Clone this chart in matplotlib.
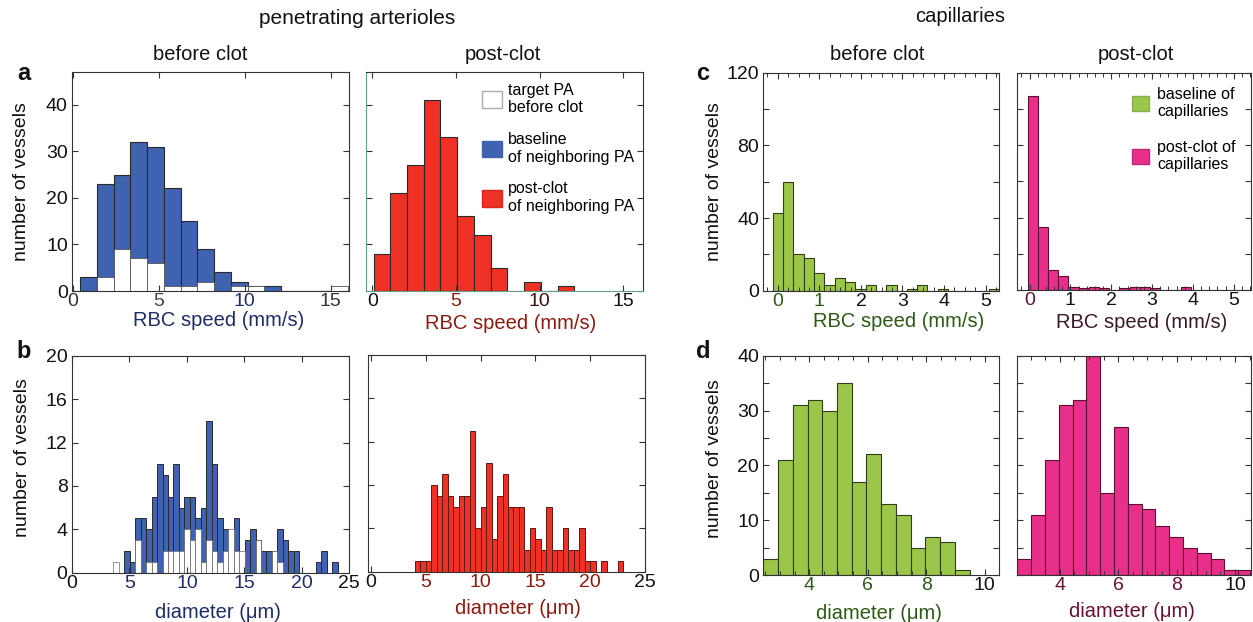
import numpy as np
import matplotlib
matplotlib.use('Agg')
import matplotlib.pyplot as plt
from matplotlib.patches import Patch

plt.rcParams['font.family'] = ['Liberation Sans', 'DejaVu Sans']

# colours
blue = '#3f62b1'
red = '#ef3125'
green = '#9cc64a'
pink = '#e8308a'
edge = '#2a2a2a'
navy = '#1f2d66'
dred = '#8b1a10'
dgreen = '#2d5a14'
maroon = '#6a1035'

# ---- histogram counts ----
# a: RBC speed (mm/s) of penetrating arterioles
a_pre_start, a_pre_width = 0.44, 0.9725
a_pre_neighbor = [3, 23, 25, 32, 31, 22, 15, 9, 4, 2, 1, 1, 0, 0, 0, 0]
a_pre_target = [0, 3, 9, 7, 6, 1, 1, 2, 0, 1, 1, 0, 0, 0, 0, 1]
a_post_start, a_post_width = 0.07, 1.0
a_post_neighbor = [8, 21, 27, 41, 33, 16, 12, 5, 0, 2, 0, 1]

# b: diameter (um) of penetrating arterioles
b_pre_start, b_pre_width = 3.61, 0.475
b_pre_neighbor = [0, 0, 2, 1, 5, 5, 4, 7, 10, 9,
                  7, 10, 6, 7, 7, 5, 6, 14, 10, 5,
                  4, 2, 5, 1, 3, 4, 3, 2, 2, 2,
                  4, 3, 2, 2, 0, 0, 0, 1, 2, 0, 1]
b_pre_target = [1, 0, 0, 0, 3, 0, 1, 1, 0, 2,
                2, 2, 2, 4, 3, 4, 1, 3, 2, 1,
                2, 4, 2, 2, 0, 0, 3, 0, 0, 2,
                1, 0, 0, 0, 0, 0, 0, 0, 0, 0, 0]
b_post_start, b_post_width = 4.0, 0.5
b_post_neighbor = [1, 1, 1, 8, 7, 9, 7, 6, 7, 7,
                   13, 4, 6, 10, 3, 7, 9, 6, 6, 6,
                   2, 4, 3, 2, 6, 2, 2, 4, 2, 2,
                   4, 1, 1, 0, 1, 0, 0, 1]

# c: RBC speed (mm/s) of capillaries
c_pre_start, c_pre_width = -0.12, 0.248
c_pre = [43, 60, 20, 18, 10, 3, 7, 5, 1, 3, 0, 3, 0, 1, 3, 0, 1, 0, 0, 0, 0, 1]
c_post_start, c_post_width = -0.05, 0.25
c_post = [107, 35, 11, 8, 2, 1, 2, 1, 0, 1, 2, 2, 1, 0, 0, 2]

# d: diameter (um) of capillaries
d_pre_start, d_pre_width = 2.43, 0.504
d_pre = [3, 21, 31, 32, 30, 35, 17, 22, 13, 11, 5, 7, 6, 1]
d_post_start, d_post_width = 2.54, 0.473
d_post = [3, 11, 21, 31, 32, 40, 15, 27, 13, 12, 9, 7, 5, 4, 3, 1, 1]

W, H = 1253, 622
fig = plt.figure(figsize=(W / 100, H / 100), dpi=100)


def make_ax(l, t, r, b):
    return fig.add_axes([l / W, 1 - b / H, (r - l) / W, (b - t) / H])


def bars(ax, start, width, counts, color, ec=edge, lw=0.8):
    left = start + width * np.arange(len(counts))
    ax.bar(left, counts, width=width, align='edge', color=color,
           edgecolor=ec, linewidth=lw)


def style(ax, xlim, ylim, xticks, yticks, ylabels=None, xcolors=None,
          spine='#333333'):
    ax.set_xlim(xlim)
    ax.set_ylim(ylim)
    ax.set_xticks(xticks)
    ax.set_yticks(yticks)
    ax.tick_params(direction='in', top=True, right=True, labelsize=14,
                   length=4, width=0.8, pad=3, colors='#333333',
                   labelcolor='#111111')
    ax.tick_params(axis='x', pad=1.5)
    if ylabels is None:
        ax.set_yticklabels([])
    else:
        ax.set_yticklabels(ylabels)
    if xcolors is not None:
        for lab, c in zip(ax.get_xticklabels(), xcolors):
            lab.set_color(c)
    for s in ax.spines.values():
        s.set_color(spine)
        s.set_linewidth(0.8)


def xlab(ax, text, color, x, y):
    ax.set_xlabel(text, fontsize=14.5, color=color)
    ax.xaxis.set_label_coords(x, y)


def ylab(ax, x, y=0.5):
    ax.set_ylabel('number of vessels', fontsize=14, color='#111111')
    ax.yaxis.set_label_coords(x, y)


# ---- a: before clot ----
ax = make_ax(72, 72, 349, 291)
bars(ax, a_pre_start, a_pre_width, a_pre_neighbor, blue)
bars(ax, a_pre_start, a_pre_width, a_pre_target, 'white', ec='#555555', lw=0.6)
style(ax, (-0.04, 16.06), (0, 47), [0, 5, 10, 15], [0, 10, 20, 30, 40],
      ['0', '10', '20', '30', '40'],
      xcolors=['#333333', '#444444', navy, '#333333'])
xlab(ax, 'RBC speed (mm/s)', navy, 0.53, -0.093)
ylab(ax, -0.15)

# ---- a: post-clot ----
ax = make_ax(366, 72, 642.7, 291)
bars(ax, a_post_start, a_post_width, a_post_neighbor, red)
style(ax, (-0.38, 16.16), (0, 47), [0, 5, 10, 15], [0, 10, 20, 30, 40],
      xcolors=['#111111', dred, '#3a1010', '#111111'])
for s in ('left', 'bottom'):
    ax.spines[s].set_color('#5f9f86')
xlab(ax, 'RBC speed (mm/s)', dred, 0.524, -0.105)
ax.legend(handles=[Patch(facecolor='white', edgecolor='#aaaaaa'),
                   Patch(facecolor=blue, edgecolor=blue),
                   Patch(facecolor=red, edgecolor='#d02a20')],
          labels=['target PA\nbefore clot', 'baseline\nof neighboring PA',
                  'post-clot\nof neighboring PA'],
          loc='upper left', bbox_to_anchor=(0.42, 0.95), frameon=False,
          fontsize=11.5, handlelength=1.25, handleheight=1.25,
          handletextpad=0.35, labelspacing=1.05, borderpad=0,
          borderaxespad=0)

# ---- b: before clot ----
ax = make_ax(71.7, 355.7, 349.3, 572.7)
bars(ax, b_pre_start, b_pre_width, b_pre_neighbor, blue, lw=0.7)
bars(ax, b_pre_start, b_pre_width, b_pre_target, 'white', ec='#666666', lw=0.5)
style(ax, (0, 24.1), (0, 20), [0, 5, 10, 15, 20], [0, 4, 8, 12, 16, 20],
      ['0', '4', '8', '12', '16', '20'],
      xcolors=['#111111', navy, navy, navy, navy])
ax.text(1.0, -0.012, '25', transform=ax.transAxes, ha='center', va='top',
        fontsize=14, color='#111111')
xlab(ax, 'diameter (\u03bcm)', navy, 0.525, -0.14)
ylab(ax, -0.145, 0.53)

# ---- b: post-clot ----
ax = make_ax(368.3, 355, 645, 571.7)
bars(ax, b_post_start, b_post_width, b_post_neighbor, red, ec='#5a1a14', lw=0.7)
style(ax, (-0.25, 25), (0, 20), [0, 5, 10, 15, 20, 25], [0, 4, 8, 12, 16, 20],
      xcolors=['#111111', dred, dred, dred, dred, '#111111'])
xlab(ax, 'diameter (\u03bcm)', dred, 0.54, -0.125)

# ---- c: before clot ----
ax = make_ax(763.3, 72.7, 999.3, 290.7)
bars(ax, c_pre_start, c_pre_width, c_pre, green, ec='#2f3f1a')
style(ax, (-0.35, 5.33), (0, 120), [0, 1, 2, 3, 4, 5],
      [0, 20, 40, 60, 80, 100, 120], ['0', '', '40', '', '80', '', '120'],
      xcolors=[dgreen, dgreen, '#111111', '#111111', '#111111', '#111111'])
ax.set_xticks(np.arange(-0.25, 5.3, 0.25), minor=True)
ax.tick_params(which='minor', direction='in', top=True, bottom=True,
               length=3, width=0.7, colors='#333333')
xlab(ax, 'RBC speed (mm/s)', dgreen, 0.575, -0.1)
ylab(ax, -0.17)

# ---- c: post-clot ----
ax = make_ax(1017.3, 72.7, 1251, 290.3)
bars(ax, c_post_start, c_post_width, c_post, pink, ec='#5a1030')
style(ax, (-0.3, 5.42), (0, 120), [0, 1, 2, 3, 4, 5],
      [0, 20, 40, 60, 80, 100, 120],
      xcolors=[maroon, '#111111', '#111111', '#111111', '#111111', '#111111'])
ax.set_xticks(np.arange(-0.2, 5.41, 0.2), minor=True)
ax.tick_params(which='minor', direction='in', top=True, bottom=True,
               length=3, width=0.7, colors='#333333')
xlab(ax, 'RBC speed (mm/s)', '#3a1a2a', 0.53, -0.105)
ax.legend(handles=[Patch(facecolor=green, edgecolor='#88b050'),
                   Patch(facecolor=pink, edgecolor='#c02878')],
          labels=['baseline of\ncapillaries', 'post-clot of\ncapillaries'],
          loc='upper left', bbox_to_anchor=(0.49, 0.935), frameon=False,
          fontsize=11.5, handlelength=1.1, handleheight=1.1,
          handletextpad=0.5, labelspacing=1.3, borderpad=0, borderaxespad=0)

# ---- d: before clot ----
ax = make_ax(763.3, 355.7, 999.3, 575)
bars(ax, d_pre_start, d_pre_width, d_pre, green, ec='#2f3f1a')
style(ax, (2.43, 10.5), (0, 40), [4, 6, 8, 10], [0, 5, 10, 15, 20, 25, 30, 35, 40],
      ['0', '', '10', '', '20', '', '30', '', '40'],
      xcolors=[dgreen, dgreen, dgreen, '#111111'])
ax.set_xticks(np.arange(2.5, 10.51, 0.5), minor=True)
ax.tick_params(which='minor', direction='in', top=True, bottom=True,
               length=3, width=0.7, colors='#333333')
xlab(ax, 'diameter (\u03bcm)', dgreen, 0.49, -0.13)
ylab(ax, -0.172, 0.53)

# ---- d: post-clot ----
ax = make_ax(1017.3, 355.7, 1251, 575)
bars(ax, d_post_start, d_post_width, d_post, pink, ec='#5a1030')
style(ax, (2.54, 10.55), (0, 40), [4, 6, 8, 10], [0, 5, 10, 15, 20, 25, 30, 35, 40],
      xcolors=[maroon, maroon, maroon, '#111111'])
ax.set_xticks(np.arange(3.0, 10.51, 0.5), minor=True)
ax.tick_params(which='minor', direction='in', top=True, bottom=True,
               length=3, width=0.7, colors='#333333')
xlab(ax, 'diameter (\u03bcm)', maroon, 0.49, -0.125)

# ---- headings and panel letters ----
fig.text(357 / W, 1 - 19 / H, 'penetrating arterioles', ha='center', va='center',
         fontsize=15, color='#111111')
fig.text(960 / W, 1 - 17 / H, 'capillaries', ha='center', va='center',
         fontsize=14.5, color='#111111')
for x, t in [(200, 'before clot'), (503, 'post-clot'), (877, 'before clot'),
             (1136, 'post-clot')]:
    fig.text(x / W, 1 - 55 / H, t, ha='center', va='center', fontsize=14.5,
             color='#111111')
for x, y, t in [(24, 73, 'a'), (24, 352, 'b'), (703, 73, 'c'), (703, 352, 'd')]:
    fig.text(x / W, 1 - y / H, t, ha='center', va='center', fontsize=17,
             fontweight='bold', color='#111111')

fig.savefig('out.png', dpi=100, facecolor='white')
